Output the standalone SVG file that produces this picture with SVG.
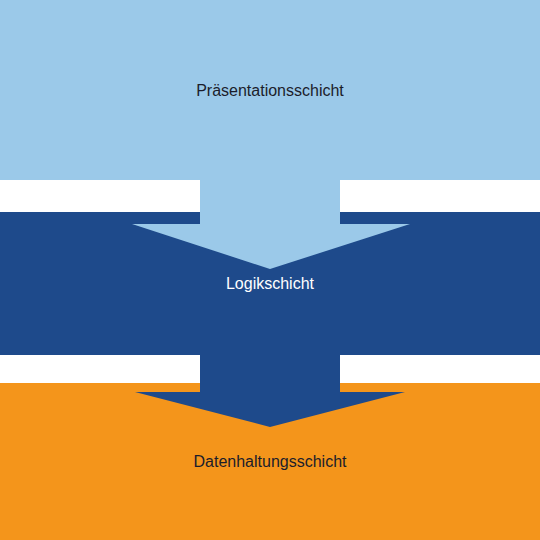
<svg xmlns="http://www.w3.org/2000/svg" width="540" height="540" viewBox="0 0 540 540">
<style>
text{font-family:"Liberation Sans",Arial,sans-serif;font-size:16px;text-anchor:middle}
.dark{fill:#1b1d2b}
.light{fill:#ffffff}
</style>
<rect width="540" height="540" fill="#ffffff"/>
<g id="daten">
<rect x="0" y="383" width="540" height="157" fill="#f4951b"/>
<text class="dark" x="270" y="467">Datenhaltungsschicht</text>
</g>
<g id="logik">
<rect x="0" y="212" width="540" height="143" fill="#1e4a8b"/>
<text class="light" x="270" y="289">Logikschicht</text>
</g>
<g id="praes">
<rect x="0" y="0" width="540" height="180" fill="#9bc9e9"/>
<text class="dark" x="270" y="96">Präsentationsschicht</text>
</g>
<g id="connectors">
<polygon points="200,179 340,179 340,224 410,224 270,269 132,224 200,224" fill="#9bc9e9"/>
<polygon points="200,354 340,354 340,392 405,392 270,427 135,392 200,392" fill="#1e4a8b"/>
</g>
</svg>
